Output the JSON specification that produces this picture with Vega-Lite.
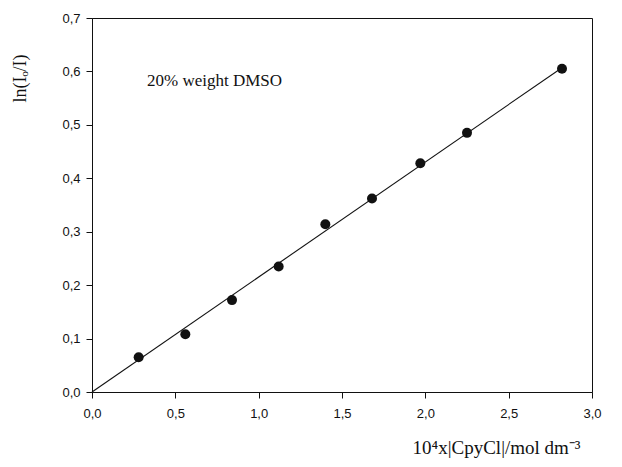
{
  "$schema": "https://vega.github.io/schema/vega-lite/v6.json",
  "width": 500,
  "height": 374,
  "autosize": {"type": "none"},
  "padding": {"left": 92, "top": 18, "right": 30, "bottom": 75},
  "background": "white",
  "config": {
    "locale": {"number": {"decimal": ",", "thousands": ".", "grouping": [3], "currency": ["", ""]}},
    "view": {"stroke": "#111", "strokeWidth": 1},
    "axis": {
      "grid": false,
      "domainColor": "#111",
      "tickColor": "#111",
      "tickSize": 6,
      "labelFont": "Liberation Sans",
      "labelFontSize": 13,
      "labelColor": "#111",
      "labelFlush": false,
      "titleFont": "Liberation Serif",
      "titleFontSize": 18,
      "titleFontWeight": "normal",
      "titleColor": "#111"
    }
  },
  "datasets": {
    "pts": [
      {"x": 0.28, "y": 0.065},
      {"x": 0.56, "y": 0.108},
      {"x": 0.84, "y": 0.172},
      {"x": 1.12, "y": 0.235},
      {"x": 1.40, "y": 0.314},
      {"x": 1.68, "y": 0.362},
      {"x": 1.97, "y": 0.428},
      {"x": 2.25, "y": 0.485},
      {"x": 2.82, "y": 0.605}
    ],
    "fit": [
      {"x": 0, "y": 0},
      {"x": 2.82, "y": 0.607}
    ],
    "note": [
      {"x": 0.33, "y": 0.583, "label": "20% weight DMSO"}
    ]
  },
  "layer": [
    {
      "data": {"name": "fit"},
      "mark": {"type": "line", "color": "#111", "strokeWidth": 1.1},
      "encoding": {
        "x": {"field": "x", "type": "quantitative", "scale": {"domain": [0, 3]},
          "axis": {"values": [0, 0.5, 1, 1.5, 2, 2.5, 3], "format": ".1f", "labelPadding": 9,
            "title": "10⁴x|CpyCl|/mol dm⁻³", "titleFontSize": 19, "titleAnchor": "end", "titleAlign": "right",
            "titleX": 488, "titleY": 55, "titleBaseline": "middle"}},
        "y": {"field": "y", "type": "quantitative", "scale": {"domain": [0, 0.7]},
          "axis": {"values": [0, 0.1, 0.2, 0.3, 0.4, 0.5, 0.6, 0.7], "format": ".1f", "labelPadding": 6,
            "title": "ln(Iₒ/I)", "titleX": -72, "titleY": 60, "titleAngle": -90,
            "titleAlign": "center", "titleBaseline": "middle"}}
      }
    },
    {
      "data": {"name": "pts"},
      "mark": {"type": "point", "filled": true, "color": "#111", "size": 100, "opacity": 1},
      "encoding": {
        "x": {"field": "x", "type": "quantitative"},
        "y": {"field": "y", "type": "quantitative"}
      }
    },
    {
      "data": {"name": "note"},
      "mark": {"type": "text", "font": "Liberation Serif", "fontSize": 17, "align": "left", "baseline": "middle", "color": "#111"},
      "encoding": {
        "x": {"field": "x", "type": "quantitative"},
        "y": {"field": "y", "type": "quantitative"},
        "text": {"field": "label"}
      }
    }
  ]
}
